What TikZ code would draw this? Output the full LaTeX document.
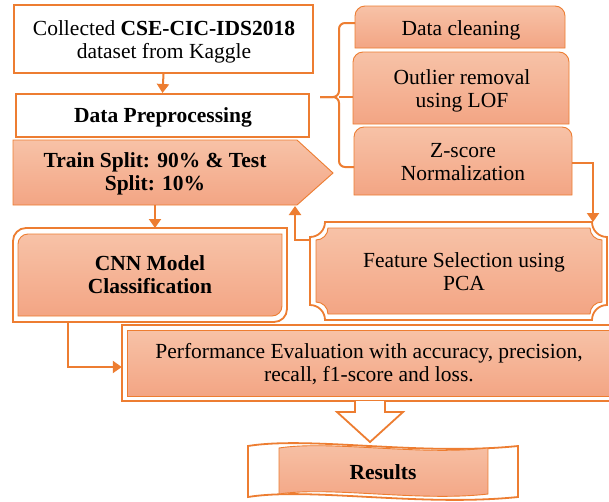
\documentclass[tikz,border=0pt]{standalone}
\usepackage{fontspec}
\setmainfont{Liberation Serif}
\usetikzlibrary{arrows.meta}

\definecolor{edge}{HTML}{ED7D31}
\definecolor{filltop}{HTML}{F7C2A7}
\definecolor{fillbot}{HTML}{F3A584}

\tikzset{
  txt/.style={font=\fontsize{21.5}{23}\selectfont, align=center, text=black, inner sep=0pt},
  plainbox/.style={draw=edge, line width=2pt, fill=white},
  peach/.style={draw=edge, line width=0.9pt, top color=filltop, bottom color=fillbot},
  framed/.style={draw=edge, line width=1.8pt, fill=white},
  link/.style={draw=edge, line width=2pt, -{Triangle[width=12pt,length=9pt]}},
  bracket/.style={draw=edge, line width=2pt, rounded corners=6pt},
  holder/.style={inner sep=0pt},
}

% box with rounded top corners: x1,y1,x2,y2,r
\newcommand\toproundbox[5]{%
  \path[peach] (#1,#4) -- (#1,#2+#5) arc[start angle=180,end angle=90,radius=#5pt]
    -- (#3-#5,#2) arc[start angle=90,end angle=0,radius=#5pt] -- (#3,#4) -- cycle;}
% box with rounded top-left and bottom-right corners
\newcommand\diagroundbox[6]{%
  \path[#6] (#1,#4) -- (#1,#2+#5) arc[start angle=180,end angle=90,radius=#5pt]
    -- (#3,#2) -- (#3,#4-#5) arc[start angle=0,end angle=-90,radius=#5pt] -- cycle;}
% plaque with concave corners
\newcommand\plaquebox[6]{%
  \path[#6] (#1+#5,#2) -- (#3-#5,#2) arc[start angle=180,end angle=270,radius=#5pt]
    -- (#3,#4-#5) arc[start angle=90,end angle=180,radius=#5pt]
    -- (#1+#5,#4) arc[start angle=0,end angle=90,radius=#5pt]
    -- (#1,#2+#5) arc[start angle=270,end angle=360,radius=#5pt] -- cycle;}

\begin{document}
\begin{tikzpicture}[x=1pt,y=-1pt]
\clip (0,0) rectangle (609,501);
\fill[white] (0,0) rectangle (609,501);

% dataset and preprocessing
\node[plainbox, minimum width=299pt, minimum height=68pt] (src) at (163.5,39) {};
\node[txt] (srctext) at (164,42) {Collected \textbf{CSE-CIC-IDS2018}\\dataset from Kaggle};
\node[plainbox, minimum width=293pt, minimum height=43pt] (pre) at (162.5,115.5) {};
\node[txt] (pretext) at (163,117) {\textbf{Data Preprocessing}};
\draw[link] (src.south) -- (pre.north);

% preprocessing steps
\toproundbox{355}{6}{565}{48}{10}
\node[holder, minimum width=210pt, minimum height=42pt] (dc) at (460,27) {};
\node[txt] (dctext) at (461,30) {Data cleaning};
\toproundbox{353}{52}{569}{124}{10}
\node[holder, minimum width=216pt, minimum height=72pt] (ol) at (461,88) {};
\node[txt] (oltext) at (462,91) {Outlier removal\\using LOF};
\toproundbox{354}{127}{572}{195}{10}
\node[txt, minimum width=218pt, minimum height=68pt] (zs) at (463,162.5) {Z-score\\Normalization};

% bracket grouping the steps
\coordinate (bt) at (355,23);
\coordinate (bb) at (354,167);
\coordinate (bm) at (320,97);
\coordinate (bc) at (353,97);
\draw[bracket] (bt) -- (339,23) -- (339,97) -- (bm);
\draw[bracket] (bb) -- (339,167) -- (339,97) -- (bm);
\draw[draw=edge, line width=2pt] (339,97) -- (bc);

% train / test split
\path[peach] (13,140) -- (297,140) -- (333,173) -- (297,205) -- (13,205) -- cycle;
\node[txt, minimum width=284pt, minimum height=65pt] (ts) at (155,174)
  {\textbf{Train Split: 90\% \& Test}\\\textbf{Split: 10\%}};

% CNN model
\diagroundbox{13}{228}{287}{322}{13}{framed}
\diagroundbox{18}{234}{282}{316}{10}{peach}
\node[txt, minimum width=274pt, minimum height=94pt] (cnn) at (150,275)
  {\textbf{CNN Model}\\\textbf{Classification}};
\coordinate (tsout) at (155,205);
\coordinate (cnnin) at (155,228);
\draw[link] (tsout) -- (cnnin);

% feature selection
\plaquebox{310}{222}{607}{320}{15}{framed}
\plaquebox{316}{228}{602}{314}{12}{peach}
\node[txt] (fs) at (464,271.5) {Feature Selection using\\PCA};
\coordinate (fsin) at (593,222);
\coordinate (fsout) at (310,240);
\coordinate (tsin) at (295,206);
\draw[link] (zs.east) -| (fsin);
\draw[link] (fsout) -| (tsin);

% performance evaluation
\path[framed] (122,325) rectangle (615,401);
\path[peach] (127,330) rectangle (615,396);
\node[holder, minimum width=489pt, minimum height=76pt] (perf) at (366.5,363) {};
\node[txt] (perftext) at (369,364) {Performance Evaluation with accuracy, precision,\\recall, f1-score and loss.};
\draw[link] ([xshift=-82pt]cnn.south) |- ([yshift=-4pt]perf.west);

% block arrow to results
\path[framed] (355,401) -- (355,412) -- (337,412) -- (370,442) -- (403,412) -- (385,412) -- (385,401);

% results banner
\path[framed] (248,446) .. controls (310,436) and (420,456) .. (518,446)
  -- (518,497) .. controls (420,507) and (310,487) .. (248,497) -- cycle;
\path[peach] (279,448) .. controls (330,440) and (420,456) .. (488,448)
  -- (488,494) .. controls (420,502) and (330,486) .. (279,494) -- cycle;
\node[txt] (res) at (383,472) {\textbf{Results}};
\end{tikzpicture}
\end{document}
